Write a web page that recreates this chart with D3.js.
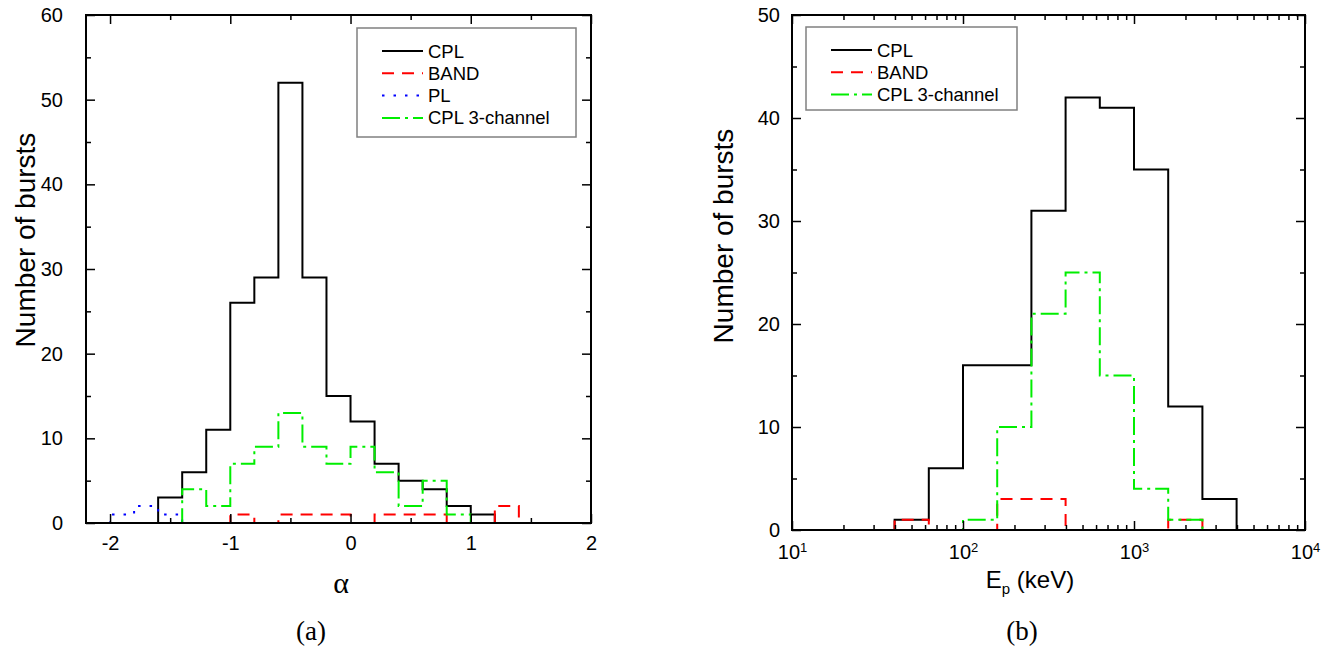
<!DOCTYPE html>
<html>
<head>
<meta charset="utf-8">
<script src="https://cdn.jsdelivr.net/npm/d3@7"></script>
<style>
  body { margin: 0; background: #fff; }
  svg { display: block; }
</style>
</head>
<body>
<svg width="1342" height="652"></svg>
<script>
// panel (a): alpha, bins of width 0.2, listed by left edge
var alphaBins = [-2.2, -2.0, -1.8, -1.6, -1.4, -1.2, -1.0, -0.8, -0.6, -0.4, -0.2,
                 0.0, 0.2, 0.4, 0.6, 0.8, 1.0, 1.2, 1.4, 1.6, 1.8, 2.0]
var alphaCPL  = [0, 0, 0, 3, 6, 11, 26, 29, 52, 29, 15, 12, 7, 5, 4, 2, 1, 0, 0, 0, 0]
var alphaBAND = [0, 0, 0, 0, 0, 0, 1, 0, 1, 1, 1, 0, 1, 1, 1, 0, 0, 2, 0, 0, 0]
var alphaPL   = [0, 1, 2, 1, 0, 0, 0, 0, 0, 0, 0, 0, 0, 0, 0, 0, 0, 0, 0, 0, 0]
var alphaCPL3 = [0, 0, 0, 0, 4, 2, 7, 9, 13, 9, 7, 9, 6, 2, 5, 1, 0, 0, 0, 0, 0]

// panel (b): Ep in keV, bins of 0.2 in log10
var epBins = [10, 15.85, 25.12, 39.81, 63.10, 100, 158.5, 251.2, 398.1, 631.0,
              1000, 1585, 2512, 3981, 6310, 10000]
var epCPL  = [0, 0, 0, 1, 6, 16, 16, 31, 42, 41, 35, 12, 3, 0, 0]
var epBAND = [0, 0, 0, 1, 0, 0, 3, 3, 0, 0, 0, 1, 0, 0, 0]
var epCPL3 = [0, 0, 0, 0, 0, 1, 10, 21, 25, 15, 4, 1, 0, 0, 0]

var alphaTicks = [-2, -1, 0, 1, 2]
var alphaMinor = [-1.5, -0.5, 0.5, 1.5]
var countTicksA = [0, 10, 20, 30, 40, 50, 60]
var countTicksB = [0, 10, 20, 30, 40, 50]
var epTicks = [10, 100, 1000, 10000]

var SANS = '"Liberation Sans", Arial, sans-serif'
var SERIF = '"Liberation Serif", "Times New Roman", serif'

var styles = {
  CPL:  { color: '#000', dash: null, label: 'CPL' },
  BAND: { color: '#ff0000', dash: '12,8', label: 'BAND' },
  PL:   { color: '#0000ff', dash: '2.5,9', label: 'PL' },
  CPL3: { color: '#00ee00', dash: '18,5,3,5', label: 'CPL 3-channel' }
}

var svg = d3.select('svg').style('font-family', SANS)

function stepPath(x, y, edges, vals) {
  var pts = vals.map(function(v, i) { return [edges[i], v] })
  pts.push([edges[vals.length], vals[vals.length - 1]])
  return d3.line()
    .x(function(d) { return x(d[0]) })
    .y(function(d) { return y(d[1]) })
    .curve(d3.curveStepAfter)(pts)
}

function drawSeries(g, x, y, edges, list) {
  list.forEach(function(s) {
    var st = styles[s.key]
    g.append('path')
      .attr('d', stepPath(x, y, edges, s.vals))
      .attr('fill', 'none')
      .attr('stroke', st.color)
      .attr('stroke-width', 2)
      .attr('stroke-dasharray', st.dash)
  })
}

function frame(g, x, y, xMajor, xMinor, yMajor, yMinor, yPad, xPad) {
  var x0 = x.range()[0], x1 = x.range()[1]
  var y0 = y.range()[1], y1 = y.range()[0]

  function ax(gen, tx, ty, vals, size) {
    return g.append('g').attr('transform', 'translate(' + tx + ',' + ty + ')')
      .call(gen.tickValues(vals).tickSize(-size).tickFormat(''))
  }
  ax(d3.axisBottom(x), 0, y1, xMinor, 5)
  ax(d3.axisTop(x), 0, y0, xMinor, 5)
  ax(d3.axisLeft(y), x0, 0, yMinor, 5)
  ax(d3.axisRight(y), x1, 0, yMinor, 5)
  ax(d3.axisTop(x), 0, y0, xMajor, 9)
  ax(d3.axisRight(y), x1, 0, yMajor, 9)

  var bottom = g.append('g').attr('transform', 'translate(0,' + y1 + ')')
    .call(d3.axisBottom(x).tickValues(xMajor).tickSize(-9).tickPadding(xPad)
      .tickFormat(function(d) { return String(d) }))
  g.append('g').attr('transform', 'translate(' + x0 + ',0)')
    .call(d3.axisLeft(y).tickValues(yMajor).tickSize(-9).tickPadding(yPad)
      .tickFormat(function(d) { return String(d) }))

  g.selectAll('.domain').remove()
  g.selectAll('.tick line').attr('stroke', '#000').attr('stroke-width', 1.5)
  g.selectAll('.tick text').attr('font-size', 20).attr('fill', '#000')
    .attr('font-family', SANS)

  g.append('rect')
    .attr('x', x0).attr('y', y0)
    .attr('width', x1 - x0).attr('height', y1 - y0)
    .attr('fill', 'none').attr('stroke', '#000').attr('stroke-width', 2)
  return bottom
}

function legend(g, x, y, w, h, keys) {
  g.append('rect').attr('x', x).attr('y', y).attr('width', w).attr('height', h)
    .attr('fill', '#fff').attr('stroke', '#808080').attr('stroke-width', 1.5)
  keys.forEach(function(k, i) {
    var st = styles[k]
    var ly = y + 23 + i * 22.3
    g.append('line').attr('x1', x + 25).attr('x2', x + 66)
      .attr('y1', ly).attr('y2', ly)
      .attr('stroke', st.color).attr('stroke-width', 2)
      .attr('stroke-dasharray', st.dash)
    g.append('text').attr('x', x + 71).attr('y', ly + 6.5)
      .attr('font-size', 18.5).text(st.label)
  })
}

// ---------- panel (a) ----------
var xA = d3.scaleLinear().domain([-2.2, 2]).range([86, 591])
var yA = d3.scaleLinear().domain([0, 60]).range([523, 15])
var gA = svg.append('g')

drawSeries(gA, xA, yA, alphaBins, [
  { key: 'CPL', vals: alphaCPL },
  { key: 'BAND', vals: alphaBAND },
  { key: 'PL', vals: alphaPL },
  { key: 'CPL3', vals: alphaCPL3 }
])
frame(gA, xA, yA, alphaTicks, alphaMinor,
      countTicksA, [5, 15, 25, 35, 45, 55], 23, 13)
legend(gA, 357, 28, 219, 109, ['CPL', 'BAND', 'PL', 'CPL3'])

gA.append('text').attr('x', 341).attr('y', 593)
  .attr('text-anchor', 'middle').attr('font-size', 30)
  .attr('font-family', SERIF).text('α')
gA.append('text')
  .attr('transform', 'translate(35,240) rotate(-90)')
  .attr('text-anchor', 'middle').attr('font-size', 28).text('Number of bursts')
gA.append('text').attr('x', 311).attr('y', 640)
  .attr('text-anchor', 'middle').attr('font-size', 27)
  .attr('font-family', SERIF).text('(a)')

// ---------- panel (b) ----------
var xB = d3.scaleLog().domain([10, 10000]).range([792, 1305])
var yB = d3.scaleLinear().domain([0, 50]).range([530, 15])
var gB = svg.append('g')

var epMinor = []
epTicks.slice(0, 3).forEach(function(d) {
  for (var m = 2; m <= 9; m++) epMinor.push(d * m)
})

drawSeries(gB, xB, yB, epBins, [
  { key: 'CPL', vals: epCPL },
  { key: 'BAND', vals: epBAND },
  { key: 'CPL3', vals: epCPL3 }
])
var bottomB = frame(gB, xB, yB, epTicks, epMinor,
      countTicksB, [5, 15, 25, 35, 45], 12, 15)
bottomB.selectAll('.tick text').each(function(d) {
  var t = d3.select(this).text('10')
  t.append('tspan').attr('dy', '-0.55em').attr('font-size', 13)
    .text(Math.round(Math.log10(d)))
})
legend(gB, 806, 27, 211, 83, ['CPL', 'BAND', 'CPL3'])

var xt = gB.append('text').attr('x', 1030).attr('y', 588)
  .attr('text-anchor', 'middle').attr('font-size', 24)
xt.append('tspan').text('E')
xt.append('tspan').attr('dy', 6).attr('font-size', 15).text('p')
xt.append('tspan').attr('dy', -6).text(' (keV)')
gB.append('text')
  .attr('transform', 'translate(733,236) rotate(-90)')
  .attr('text-anchor', 'middle').attr('font-size', 28).text('Number of bursts')
gB.append('text').attr('x', 1022).attr('y', 640)
  .attr('text-anchor', 'middle').attr('font-size', 27)
  .attr('font-family', SERIF).text('(b)')
</script>
</body>
</html>
